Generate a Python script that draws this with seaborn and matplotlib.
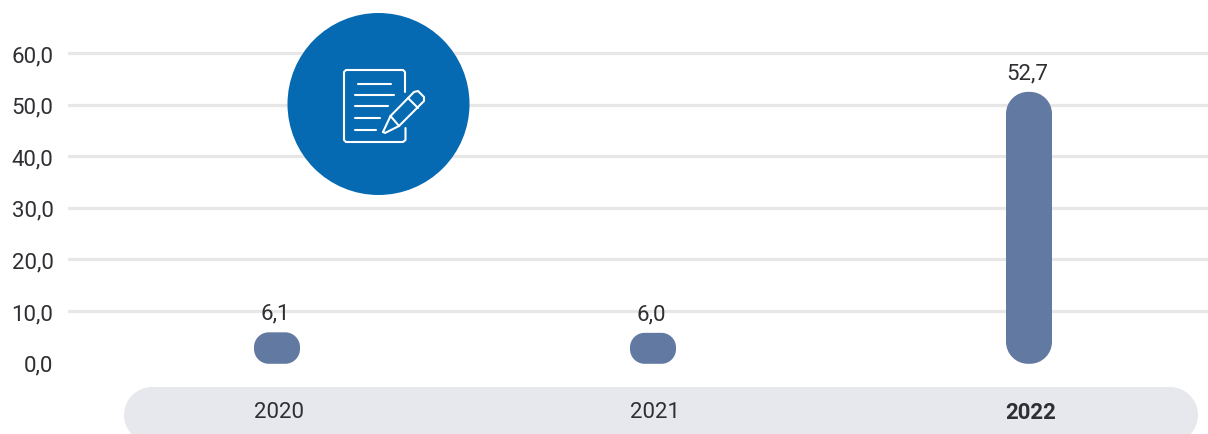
import matplotlib
matplotlib.use("Agg")
import matplotlib.pyplot as plt
import seaborn as sns
import pandas as pd
from matplotlib.patches import FancyBboxPatch, Circle, PathPatch
from matplotlib.path import Path
from matplotlib.transforms import Affine2D, ScaledTranslation

years = ["2020", "2021", "2022"]
values = [6.1, 6.0, 52.7]
y_ticks = [0, 10, 20, 30, 40, 50, 60]

BAR = "#6279A1"
TEXT = "#2F2F33"
GRID = "#E7E7E7"
BAND = "#E7E8EE"
BLUE = "#066AB2"
FS = 16

sns.set_theme(style="white")
plt.rcParams["font.family"] = ["Roboto", "DejaVu Sans"]

W, H = 1208, 435
fig = plt.figure(figsize=(W / 100, H / 100), dpi=100, facecolor="white")
L = 68
ax = fig.add_axes([L / W, 0, 1 - L / W, 1])
ax.patch.set_alpha(0)

df = pd.DataFrame({"year": years, "value": values})
PX_X = 376.0
PX_Y = 5.16
ZERO = 363.6
bw = 46 / PX_X
sns.barplot(data=df, x="year", y="value", color=BAR, width=bw, saturation=1, ax=ax, zorder=2)

ax.set_xlim((L - 277) / PX_X, (W - 277) / PX_X)
ax.set_ylim((ZERO - H) / PX_Y, ZERO / PX_Y)
ax.set_xlabel("")
ax.set_ylabel("")
sns.despine(ax=ax, left=True, bottom=True, top=True, right=True)


def circular_round(r):
    """Box style with true circular-arc corners of radius r (box units)."""
    k = 0.5523 * r

    def style(x0, y0, w, h, mutation_size):
        x1, y1 = x0 + w, y0 + h
        verts = [(x0 + r, y0), (x1 - r, y0),
                 (x1 - r + k, y0), (x1, y0 + r - k), (x1, y0 + r),
                 (x1, y1 - r),
                 (x1, y1 - r + k), (x1 - r + k, y1), (x1 - r, y1),
                 (x0 + r, y1),
                 (x0 + r - k, y1), (x0, y1 - r + k), (x0, y1 - r),
                 (x0, y0 + r),
                 (x0, y0 + r - k), (x0 + r - k, y0), (x0 + r, y0),
                 (x0 + r, y0)]
        c3 = [Path.CURVE4] * 3
        codes = [Path.MOVETO, Path.LINETO] + c3 + [Path.LINETO] + c3 + [Path.LINETO] + c3 + [Path.LINETO] + c3 + [Path.CLOSEPOLY]
        return Path(verts, codes)
    return style


# rounded bars built from the seaborn bar geometry; they sit slightly below the zero line
for bar in list(ax.patches):
    x, y, w, h = bar.get_x(), bar.get_y(), bar.get_width(), bar.get_height()
    r_px = min(22, h * PX_Y * 0.47)
    bar.remove()
    p = FancyBboxPatch((x, y), w, h, boxstyle=circular_round(r_px / PX_X),
                       mutation_aspect=PX_X / PX_Y,
                       fc=BAR, ec="none", zorder=2)
    ax.add_patch(p)
    p.set_transform(ax.transData + Affine2D().translate(0, -1.2))

ax.set_axisbelow(True)
ax.set_yticks(y_ticks)
ax.set_yticklabels([f"{v:.1f}".replace(".", ",") for v in y_ticks], fontsize=FS, color=TEXT)
ax.tick_params(axis="y", length=0, pad=10.5)
ax.yaxis.grid(True, color=GRID, lw=2.3)
ax.xaxis.grid(False)
ax.yaxis.get_gridlines()[0].set_visible(False)

ax.set_xticks(range(len(years)))
ax.set_xticklabels(years, fontsize=FS, color=TEXT)
ax.tick_params(axis="x", length=0, pad=-23.5)
ax.get_xticklabels()[-1].set_fontweight("bold")
shift = ScaledTranslation(2 / 100, 0, fig.dpi_scale_trans)
for lab in ax.get_xticklabels():
    lab.set_transform(lab.get_transform() + shift)

for i, v in enumerate(values):
    ax.annotate(f"{v:.1f}".replace(".", ","), (i, v), xytext=(-1, 5.5), textcoords="offset points",
                ha="center", va="bottom", fontsize=FS, color=TEXT, zorder=5)

# decoration in pixel coordinates (origin top-left)
px = Affine2D().scale(1, -1).translate(0, H)
ax.add_patch(FancyBboxPatch((124, 388), 1074, 56, boxstyle=circular_round(28),
                            fc=BAND, ec="none", transform=px, clip_on=False, zorder=0.2))
ax.add_patch(Circle((378.5, 105), 91, fc=BLUE, ec="none", transform=px, clip_on=False, zorder=3))


def stroke(pts, closed=False):
    verts = list(pts) + ([pts[0]] if closed else [])
    codes = [Path.MOVETO] + [Path.LINETO] * (len(verts) - 1)
    ax.add_patch(PathPatch(Path(verts, codes), fc="none", ec="white", lw=1.5, transform=px,
                           clip_on=False, zorder=4, capstyle="round", joinstyle="round"))


# page outline, open where the pencil crosses it
stroke([(405, 93), (405, 73), (403, 71), (346, 71), (344, 73), (344, 141), (346, 143),
        (403, 143), (405.5, 141), (405.5, 129)])
# text lines
for x0, x1, yy in [(358, 391, 85), (355, 394, 96), (355, 388, 107), (355, 380, 119), (355, 376, 131)]:
    stroke([(x0, yy), (x1, yy)])
# pencil
stroke([(383, 133), (390.5, 117), (414, 93), (418, 92), (424, 98), (424, 102), (399, 127), (385, 134)], closed=True)
stroke([(390.5, 117), (399, 127)])
stroke([(408, 99), (418, 109)])

fig.savefig("out.png", dpi=100, facecolor="white")
